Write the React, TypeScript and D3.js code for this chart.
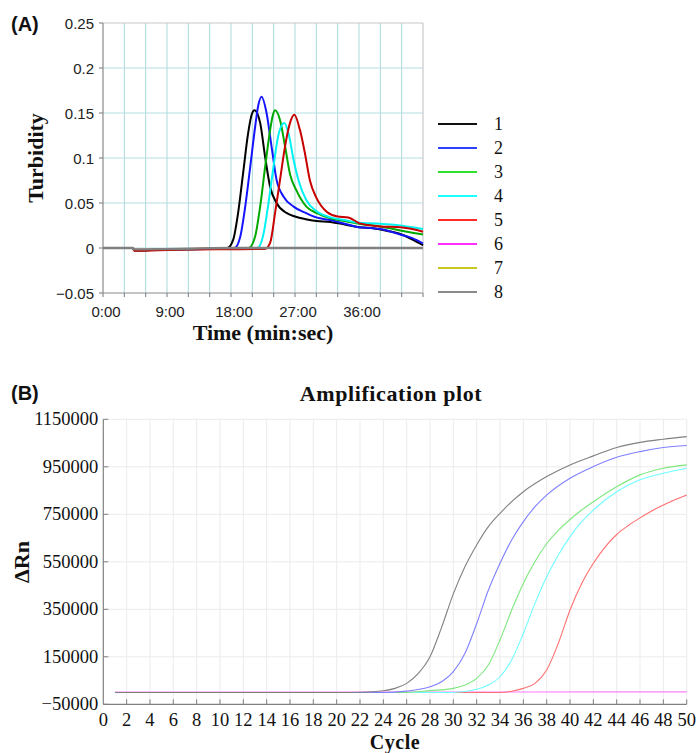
import React from 'react';
import * as d3 from 'd3';

type P = [number, number];

// ---------- Panel A data (time in minutes, turbidity) ----------
const seriesNamesA = ['1', '2', '3', '4', '5', '6', '7', '8'];
const lineColorsA = ['#000000', '#1414ff', '#00a800', '#00f2f2', '#c80000', '#ff00ff', '#c8c800', '#808080'];
const legendColorsA = ['#111111', '#3040ff', '#30e030', '#20ffff', '#ff2a2a', '#ff30ff', '#c8c820', '#8a8a8a'];

const turb1: P[] = [[0, 0], [4.2, 0], [4.4, -0.0025], [10, -0.0015], [16, -0.0008], [17.5, 0], [18.3, 0.009], [19.0, 0.039], [19.7, 0.083], [20.4, 0.127], [20.9, 0.148], [21.3, 0.153], [22.1, 0.139], [22.8, 0.101], [23.5, 0.068], [24.4, 0.05], [25.8, 0.039], [27, 0.035], [28.5, 0.032], [30, 0.030], [32, 0.029], [34, 0.026], [36, 0.023], [38, 0.022], [40, 0.019], [42, 0.015], [43.6, 0.009], [45, 0.003]];
const turb2: P[] = [[0, 0], [4.2, 0], [4.4, -0.0025], [10, -0.0015], [16, -0.0008], [18.5, 0], [19.3, 0.0126], [20.0, 0.046], [20.7, 0.09], [21.4, 0.135], [21.8, 0.157], [22.3, 0.168], [23.0, 0.15], [23.7, 0.113], [24.4, 0.076], [25.4, 0.057], [26.8, 0.046], [28.5, 0.039], [30, 0.034], [32, 0.031], [34, 0.027], [36, 0.023], [38, 0.022], [39, 0.021], [41.8, 0.015], [43.5, 0.011], [45, 0.005]];
const turb3: P[] = [[0, 0], [4.2, 0], [4.4, -0.0025], [10, -0.0015], [16, -0.0008], [20.5, 0], [21.4, 0.013], [22.1, 0.046], [22.8, 0.09], [23.5, 0.131], [23.9, 0.148], [24.2, 0.153], [24.9, 0.142], [25.6, 0.113], [26.3, 0.082], [27.2, 0.064], [28.6, 0.046], [30, 0.039], [32, 0.033], [34, 0.030], [36, 0.027], [39, 0.024], [41.8, 0.0195], [43.5, 0.017], [45, 0.015]];
const turb4: P[] = [[0, 0], [4.2, 0], [4.4, -0.0025], [10, -0.0015], [16, -0.0008], [21.7, 0], [22.5, 0.013], [23.2, 0.046], [23.9, 0.086], [24.6, 0.123], [25.1, 0.136], [25.5, 0.139], [26.1, 0.127], [26.8, 0.098], [27.5, 0.075], [28.6, 0.053], [30, 0.041], [32, 0.034], [34, 0.031], [36, 0.028], [39, 0.027], [41.8, 0.025], [43.5, 0.023], [45, 0.021]];
const turb5: P[] = [[0, 0], [4.2, 0], [4.4, -0.003], [10, -0.002], [22.8, -0.001], [23.5, 0.0056], [24.2, 0.039], [24.9, 0.076], [25.6, 0.113], [26.3, 0.139], [26.9, 0.148], [27.7, 0.131], [28.4, 0.105], [29.1, 0.075], [30, 0.056], [31.5, 0.04], [33, 0.035], [34.5, 0.034], [36.1, 0.0274], [39, 0.024], [41.8, 0.023], [43.5, 0.021], [45, 0.018]];
const turb6: P[] = [[0, 0], [4.2, 0], [4.4, -0.002], [12, -0.001], [20, 0], [45, 0]];
const turb7: P[] = [[0, 0], [4.2, 0], [4.4, -0.002], [12, -0.001], [20, 0], [45, 0]];
const turb8: P[] = [[0, 0], [4.2, 0], [4.4, -0.0015], [12, -0.0008], [18, 0], [45, 0]];
const turbSeries = [turb1, turb2, turb3, turb4, turb5, turb6, turb7, turb8];
const drawOrderA = [5, 6, 0, 1, 2, 3, 4, 7];

const yTicksA = [0.25, 0.2, 0.15, 0.1, 0.05, 0, -0.05];
const yTickLabelsA = ['0.25', '0.2', '0.15', '0.1', '0.05', '0', '\u22120.05'];
const xTicksA = [0, 9, 18, 27, 36];
const xTickLabelsA = ['0:00', '9:00', '18:00', '27:00', '36:00'];

// ---------- Panel B data (cycle, ΔRn) ----------
const lineColorsB = ['#808080', '#8080ff', '#7ee87e', '#70ffff', '#ff7070', '#ff80ff'];
const amp1: P[] = [[1, 0], [20, 0], [22, 1000], [24, 7000], [25, 17000], [26, 38000], [27, 80000], [28, 150000], [29, 275000], [30, 415000], [31, 530000], [32, 621000], [33, 698000], [34, 754000], [35, 803000], [36, 845000], [38, 909000], [40, 958000], [42, 996000], [44, 1031000], [46, 1053000], [48, 1066000], [50, 1077000]];
const amp2: P[] = [[1, 0], [24, 0], [26, 5600], [28, 24000], [29, 45000], [30, 87500], [31, 165000], [32, 290000], [33, 430000], [34, 544000], [35, 642000], [36, 719000], [37, 782000], [38, 831000], [40, 902000], [42, 951000], [44, 990000], [46, 1014000], [48, 1031000], [50, 1040000]];
const amp3: P[] = [[1, 0], [26, 0], [28, 7500], [30, 17000], [31, 31000], [32, 59000], [33, 115600], [34, 221000], [35, 347000], [36, 459000], [37, 551000], [38, 626000], [39, 682000], [40, 728000], [41, 768000], [42, 803000], [44, 866000], [46, 916000], [48, 944000], [50, 958000]];
const amp4: P[] = [[1, 0], [30, 0], [32, 13000], [33, 31000], [34, 66000], [35, 137000], [36, 249000], [37, 375000], [38, 487000], [39, 579000], [40, 656000], [41, 719000], [42, 768000], [44, 845000], [46, 895000], [48, 923000], [50, 944000]];
const amp5: P[] = [[1, 0], [34, 0], [35, 5000], [36, 17000], [37, 38000], [38, 94500], [39, 207000], [40, 347000], [41, 459000], [42, 544000], [43, 612000], [44, 665000], [45, 703000], [46, 735000], [47, 764000], [48, 789000], [49, 811000], [50, 831000]];
const amp6: P[] = [[1, 1500], [20, 1500], [35, 2000], [50, 2500]];
const ampSeries = [amp1, amp2, amp3, amp4, amp5, amp6];
const drawOrderB = [5, 4, 3, 2, 1, 0];

const yTicksB = [1150000, 950000, 750000, 550000, 350000, 150000, -50000];
const yTickLabelsB = ['1150000', '950000', '750000', '550000', '350000', '150000', '\u221250000'];
const xTicksB = d3.range(0, 51, 2);

export default function App() {
  // Panel A scales
  const xA = d3.scaleLinear().domain([0, 45]).range([103, 423]);
  const yA = d3.scaleLinear().domain([-0.05, 0.25]).range([293, 23]);
  const lineA = d3.line<P>().x(d => xA(d[0])).y(d => yA(d[1])).curve(d3.curveMonotoneX);
  const gridXA = d3.range(3, 45, 3);
  const gridYA = d3.range(0, 6).map(i => -0.05 + 0.05 * i).slice(1);

  // Panel B scales
  const xB = d3.scaleLinear().domain([0, 50]).range([103.3, 686.7]);
  const yB = d3.scaleLinear().domain([-50000, 1150000]).range([704.3, 419.3]);
  const lineB = d3.line<P>().x(d => xB(d[0])).y(d => yB(d[1])).curve(d3.curveMonotoneX);

  const sans = '"Liberation Sans", Arial, sans-serif';
  const serif = '"Liberation Serif", "Times New Roman", serif';

  return (
    <svg width={696} height={753} style={{ position: 'absolute', left: 0, top: 0, background: '#fff' }}>
      <rect x={0} y={0} width={696} height={753} fill="#fff" />
      {/* ================= Panel A ================= */}
      <text x={11} y={31} fontFamily={sans} fontWeight="bold" fontSize={20} fill="#111">(A)</text>
      {/* grid */}
      {gridXA.map(t => (
        <line key={'gxa' + t} x1={xA(t)} x2={xA(t)} y1={yA(0.25)} y2={yA(-0.05)} stroke="#a9d9d9" strokeWidth={1} />
      ))}
      {gridYA.map(v => (
        <line key={'gya' + v} x1={xA(0)} x2={xA(45)} y1={yA(v)} y2={yA(v)} stroke="#b4dede" strokeWidth={1} />
      ))}
      {/* borders */}
      <line x1={xA(0)} x2={xA(45)} y1={yA(0.25)} y2={yA(0.25)} stroke="#c8c8c8" strokeWidth={1.2} />
      <line x1={xA(45)} x2={xA(45)} y1={yA(0.25)} y2={yA(-0.05)} stroke="#c8c8c8" strokeWidth={1.2} />
      <line x1={xA(0)} x2={xA(0)} y1={yA(0.25)} y2={yA(-0.05)} stroke="#8a8a8a" strokeWidth={1.2} />
      <line x1={xA(0)} x2={xA(45)} y1={yA(-0.05)} y2={yA(-0.05)} stroke="#8a8a8a" strokeWidth={1.2} />
      {/* y ticks */}
      {yTicksA.map((v, i) => (
        <g key={'yta' + i}>
          <line x1={xA(0) - 4} x2={xA(0)} y1={yA(v)} y2={yA(v)} stroke="#8a8a8a" strokeWidth={1.2} />
          <text x={xA(0) - 9} y={yA(v)} textAnchor="end" dominantBaseline="central" fontFamily={sans} fontSize={15} fill="#222">{yTickLabelsA[i]}</text>
        </g>
      ))}
      {/* x ticks */}
      {d3.range(0, 46, 3).map(t => (
        <line key={'xtm' + t} x1={xA(t)} x2={xA(t)} y1={yA(-0.05)} y2={yA(-0.05) + 4} stroke="#8a8a8a" strokeWidth={1.2} />
      ))}
      {xTicksA.map((t, i) => (
        <text key={'xta' + i} x={xA(t) + 3} y={317} textAnchor="middle" fontFamily={sans} fontSize={15} fill="#222">{xTickLabelsA[i]}</text>
      ))}
      {/* curves */}
      {drawOrderA.map(i => (
        <path key={'ca' + i} d={lineA(turbSeries[i]) || ''} fill="none" stroke={lineColorsA[i]} strokeWidth={i === 7 ? 2.4 : 2} strokeLinejoin="round" />
      ))}
      {/* axis labels */}
      <text transform={`translate(35,158) rotate(-90)`} textAnchor="middle" dominantBaseline="central" fontFamily={serif} fontWeight="bold" fontSize={22} fill="#111">Turbidity</text>
      <text x={263} y={340} textAnchor="middle" fontFamily={serif} fontWeight="bold" fontSize={22} fill="#111">Time (min:sec)</text>
      {/* legend */}
      {seriesNamesA.map((n, i) => (
        <g key={'lg' + i}>
          <line x1={438} x2={477} y1={124 + i * 24} y2={124 + i * 24} stroke={legendColorsA[i]} strokeWidth={2} />
          <text x={494} y={124 + i * 24} dominantBaseline="central" fontFamily={serif} fontSize={18} fill="#111">{n}</text>
        </g>
      ))}

      {/* ================= Panel B ================= */}
      <text x={11} y={400} fontFamily={sans} fontWeight="bold" fontSize={20} fill="#111">(B)</text>
      <text x={391} y={401} textAnchor="middle" fontFamily={serif} fontWeight="bold" fontSize={22} letterSpacing={0.6} fill="#111">Amplification plot</text>
      {/* grid */}
      {xTicksB.filter(c => c > 0).map(c => (
        <line key={'gxb' + c} x1={xB(c)} x2={xB(c)} y1={yB(1150000)} y2={yB(-50000)} stroke="#ebebeb" strokeWidth={1} />
      ))}
      {yTicksB.filter(v => v > -50000).map(v => (
        <line key={'gyb' + v} x1={xB(0)} x2={xB(50)} y1={yB(v)} y2={yB(v)} stroke="#ebebeb" strokeWidth={1} />
      ))}
      {/* axes */}
      <line x1={xB(0)} x2={xB(0)} y1={yB(1150000)} y2={yB(-50000)} stroke="#808080" strokeWidth={1.2} />
      <line x1={xB(0)} x2={xB(50)} y1={yB(-50000)} y2={yB(-50000)} stroke="#808080" strokeWidth={1.2} />
      {yTicksB.map((v, i) => (
        <g key={'ytb' + i}>
          <line x1={xB(0)} x2={xB(0) + 5} y1={yB(v)} y2={yB(v)} stroke="#808080" strokeWidth={1} />
          <text x={xB(0) - 5} y={yB(v)} textAnchor="end" dominantBaseline="central" fontFamily={serif} fontSize={18.5} fill="#111">{yTickLabelsB[i]}</text>
        </g>
      ))}
      {xTicksB.map(c => (
        <g key={'xtb' + c}>
          {c > 0 && <line x1={xB(c)} x2={xB(c)} y1={yB(-50000)} y2={yB(-50000) - 5} stroke="#808080" strokeWidth={1} />}
          <text x={xB(c)} y={725.5} textAnchor="middle" fontFamily={serif} fontSize={18.5} fill="#111">{String(c)}</text>
        </g>
      ))}
      {/* curves */}
      {drawOrderB.map(i => (
        <path key={'cb' + i} d={lineB(ampSeries[i]) || ''} fill="none" stroke={lineColorsB[i]} strokeWidth={1.1} />
      ))}
      {/* axis labels */}
      <text transform={`translate(21,562) rotate(-90)`} textAnchor="middle" dominantBaseline="central" fontFamily={serif} fontWeight="bold" fontSize={22} fill="#111">ΔRn</text>
      <text x={395} y={749} textAnchor="middle" fontFamily={serif} fontWeight="bold" fontSize={20} letterSpacing={0.5} fill="#111">Cycle</text>
    </svg>
  );
}
